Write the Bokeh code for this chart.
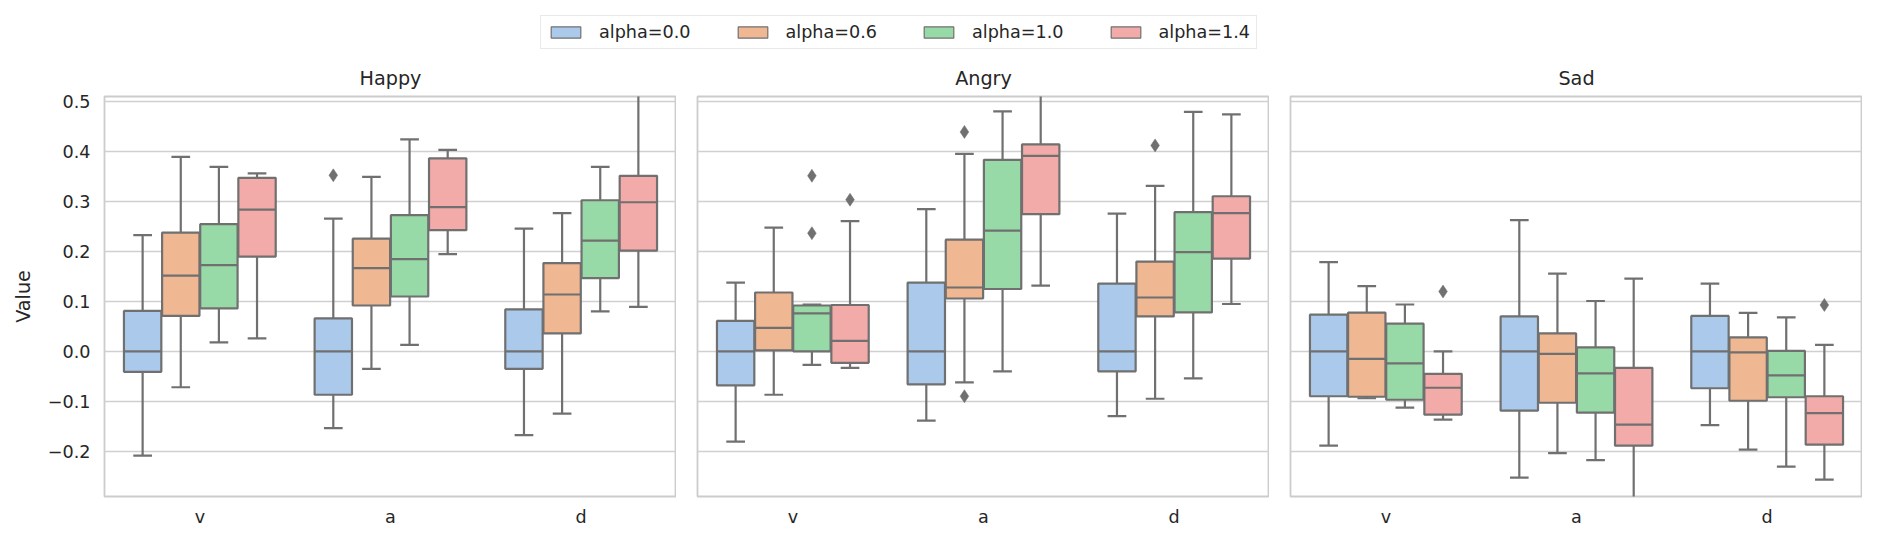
import colorsys
from bokeh.plotting import figure
from bokeh.models import (ColumnDataSource, FactorRange, Range1d, FixedTicker,
                          Legend, LegendItem, Spacer)
from bokeh.transform import dodge
from bokeh.layouts import column, row
from bokeh.embed import file_html
from bokeh.resources import INLINE

# ---------------- data ----------------
emotions = ["Happy", "Angry", "Sad"]
dims = ["v", "a", "d"]
hues = ["alpha=0.0", "alpha=0.6", "alpha=1.0", "alpha=1.4"]
y_ticks = [-0.2, -0.1, 0.0, 0.1, 0.2, 0.3, 0.4, 0.5]

# box statistics: [dim v, a, d] x [hue 0.0, 0.6, 1.0, 1.4]
whisker_low = {
    "Happy": [[-0.209, -0.072, 0.018, 0.026],
              [-0.154, -0.035, 0.013, 0.195],
              [-0.168, -0.125, 0.080, 0.089]],
    "Angry": [[-0.181, -0.087, -0.027, -0.033],
              [-0.139, -0.062, -0.040, 0.132],
              [-0.130, -0.095, -0.054, 0.095]],
    "Sad":   [[-0.189, -0.094, -0.113, -0.137],
              [-0.253, -0.204, -0.218, -0.310],
              [-0.148, -0.197, -0.231, -0.257]],
}
q1 = {
    "Happy": [[-0.041, 0.071, 0.086, 0.190],
              [-0.087, 0.092, 0.110, 0.243],
              [-0.035, 0.036, 0.147, 0.202]],
    "Angry": [[-0.068, 0.002, 0.000, -0.023],
              [-0.066, 0.106, 0.125, 0.275],
              [-0.040, 0.070, 0.078, 0.186]],
    "Sad":   [[-0.090, -0.091, -0.097, -0.127],
              [-0.119, -0.103, -0.123, -0.189],
              [-0.074, -0.099, -0.092, -0.187]],
}
median = {
    "Happy": [[0.000, 0.152, 0.173, 0.284],
              [0.000, 0.167, 0.185, 0.289],
              [0.000, 0.114, 0.222, 0.299]],
    "Angry": [[0.000, 0.047, 0.076, 0.021],
              [0.000, 0.128, 0.242, 0.392],
              [0.000, 0.108, 0.199, 0.277]],
    "Sad":   [[0.000, -0.015, -0.024, -0.073],
              [0.000, -0.005, -0.044, -0.147],
              [0.000, -0.002, -0.048, -0.124]],
}
q3 = {
    "Happy": [[0.081, 0.238, 0.255, 0.348],
              [0.066, 0.226, 0.273, 0.387],
              [0.084, 0.177, 0.303, 0.352]],
    "Angry": [[0.061, 0.118, 0.092, 0.093],
              [0.138, 0.224, 0.384, 0.415],
              [0.136, 0.180, 0.279, 0.311]],
    "Sad":   [[0.0735, 0.0775, 0.0555, -0.045],
              [0.070, 0.036, 0.008, -0.033],
              [0.071, 0.028, 0.001, -0.090]],
}
whisker_high = {
    "Happy": [[0.233, 0.390, 0.370, 0.357],
              [0.266, 0.350, 0.425, 0.404],
              [0.246, 0.277, 0.370, 0.540]],
    "Angry": [[0.138, 0.248, 0.094, 0.261],
              [0.285, 0.396, 0.481, 0.560],
              [0.276, 0.332, 0.480, 0.475]],
    "Sad":   [[0.179, 0.131, 0.094, 0.000],
              [0.263, 0.156, 0.101, 0.146],
              [0.136, 0.077, 0.068, 0.013]],
}

outlier_emotion = ["Happy", "Angry", "Angry", "Angry", "Angry", "Angry", "Angry", "Sad", "Sad"]
outlier_dim = ["a", "v", "v", "v", "a", "a", "d", "v", "d"]
outlier_hue = ["alpha=0.0", "alpha=1.0", "alpha=1.0", "alpha=1.4", "alpha=0.6",
               "alpha=0.6", "alpha=0.6", "alpha=1.4", "alpha=1.4"]
outlier_value = [0.353, 0.352, 0.237, 0.304, 0.440, -0.090, 0.413, 0.120, 0.093]

# ---------------- style ----------------
FONT = "DejaVu Sans"
TEXT = "#262626"
GRAY = "#707070"
GRID = "#d0d0d0"
pastel = ["#a1c9f4", "#ffb482", "#8de5a1", "#ff9f9b"]


def desaturate(hexcol, prop):
    r, g, b = (int(hexcol[i:i + 2], 16) / 255 for i in (1, 3, 5))
    h, l, s = colorsys.rgb_to_hls(r, g, b)
    r, g, b = colorsys.hls_to_rgb(h, l, s * prop)
    return "#%02x%02x%02x" % tuple(int(round(c * 255)) for c in (r, g, b))


colors = [desaturate(c, 0.75) for c in pastel]
offsets = [-0.3, -0.1, 0.1, 0.3]
BW = 0.196
CW = BW / 2
LW = 2.2

y_range = Range1d(-0.291, 0.511)
tick_labels = {t: ("%.1f" % t).replace("-", "\u2212") for t in y_ticks}

figs = []
for k, emo in enumerate(emotions):
    p = figure(
        frame_width=572, frame_height=400,
        x_range=FactorRange(factors=dims, range_padding=0),
        y_range=y_range,
        toolbar_location=None, output_backend="svg",
        min_border_left=96 if k == 0 else 21, min_border_right=0,
        min_border_top=39, min_border_bottom=31,
        title=emo,
    )
    p.title.align = "center"
    p.title.text_font = FONT
    p.title.text_font_size = "19.2px"
    p.title.text_font_style = "normal"
    p.title.text_color = TEXT
    p.title.standoff = 14

    p.outline_line_color = "#cccccc"
    p.outline_line_width = 1.8
    p.xgrid.visible = False
    p.ygrid.ticker = FixedTicker(ticks=y_ticks)
    p.ygrid.grid_line_color = GRID
    p.ygrid.grid_line_width = 1.5

    p.yaxis.ticker = FixedTicker(ticks=y_ticks)
    p.yaxis.major_label_overrides = tick_labels
    for ax in (p.xaxis, p.yaxis):
        ax.axis_line_color = None
        ax.major_tick_line_color = None
        ax.minor_tick_line_color = None
        ax.major_tick_out = 0
        ax.major_tick_in = 0
        ax.minor_tick_out = 0
        ax.minor_tick_in = 0
        ax.major_label_text_font = FONT
        ax.major_label_text_font_size = "17.6px"
        ax.major_label_text_color = TEXT
    p.xaxis.major_label_standoff = 10
    p.yaxis.major_label_standoff = 14
    if k == 0:
        p.yaxis.axis_label = "Value"
        p.yaxis.axis_label_text_font = FONT
        p.yaxis.axis_label_text_font_size = "19.2px"
        p.yaxis.axis_label_text_font_style = "normal"
        p.yaxis.axis_label_text_color = TEXT
        p.yaxis.axis_label_standoff = 10
    else:
        p.yaxis.visible = False

    for j, (hue, col, off) in enumerate(zip(hues, colors, offsets)):
        src = ColumnDataSource(dict(
            dim=dims,
            lo=[whisker_low[emo][d][j] for d in range(3)],
            q1=[q1[emo][d][j] for d in range(3)],
            med=[median[emo][d][j] for d in range(3)],
            q3=[q3[emo][d][j] for d in range(3)],
            hi=[whisker_high[emo][d][j] for d in range(3)],
        ))
        xc = dodge("dim", off, range=p.x_range)
        xl = dodge("dim", off - CW / 2, range=p.x_range)
        xr = dodge("dim", off + CW / 2, range=p.x_range)
        bl = dodge("dim", off - BW / 2, range=p.x_range)
        br = dodge("dim", off + BW / 2, range=p.x_range)
        # whiskers
        p.segment(x0=xc, y0="q3", x1=xc, y1="hi", source=src, line_color=GRAY, line_width=LW)
        p.segment(x0=xc, y0="q1", x1=xc, y1="lo", source=src, line_color=GRAY, line_width=LW)
        # caps
        p.segment(x0=xl, y0="hi", x1=xr, y1="hi", source=src, line_color=GRAY, line_width=LW)
        p.segment(x0=xl, y0="lo", x1=xr, y1="lo", source=src, line_color=GRAY, line_width=LW)
        # box
        p.vbar(x=xc, width=BW, top="q3", bottom="q1", source=src,
               fill_color=col, line_color=GRAY, line_width=LW)
        # median
        p.segment(x0=bl, y0="med", x1=br, y1="med", source=src, line_color=GRAY, line_width=LW)

        # outliers
        od = [d for e, d, h in zip(outlier_emotion, outlier_dim, outlier_hue) if e == emo and h == hue]
        ov = [v for e, h, v in zip(outlier_emotion, outlier_hue, outlier_value) if e == emo and h == hue]
        if od:
            osrc = ColumnDataSource(dict(dim=od, val=ov))
            p.scatter(x=xc, y="val", source=osrc, marker="diamond", size=13,
                      fill_color=GRAY, line_color=GRAY, line_width=0.5)
    figs.append(p)

# ---------------- legend strip ----------------
lf = figure(width=1862, height=57, x_range=Range1d(0, 1), y_range=Range1d(0, 1),
            toolbar_location=None, output_backend="svg",
            x_axis_location=None, y_axis_location=None, min_border=0)
lf.grid.visible = False
lf.outline_line_color = None
items = []
for hue, col in zip(hues, colors):
    # off-canvas placeholder glyph: only its legend swatch is visible
    r = lf.vbar(x=[-10], top=[-10], bottom=[-11], width=0.1,
                fill_color=col, line_color=GRAY, line_width=1.2)
    items.append(LegendItem(label=hue, renderers=[r]))
leg = Legend(items=items, orientation="horizontal", location=(540, 8),
             glyph_width=37, glyph_height=14, label_standoff=15, spacing=43,
             padding=6, margin=0, label_height=20,
             label_text_font=FONT, label_text_font_size="17.6px", label_text_color=TEXT,
             border_line_color="#d4d4d4", border_line_width=1.3,
             background_fill_color="white", background_fill_alpha=1.0)
lf.add_layout(leg)

layout = column(lf, row(Spacer(width=8, height=10), *figs, spacing=0), spacing=0)
open("out.html", "w").write(file_html(layout, INLINE))
